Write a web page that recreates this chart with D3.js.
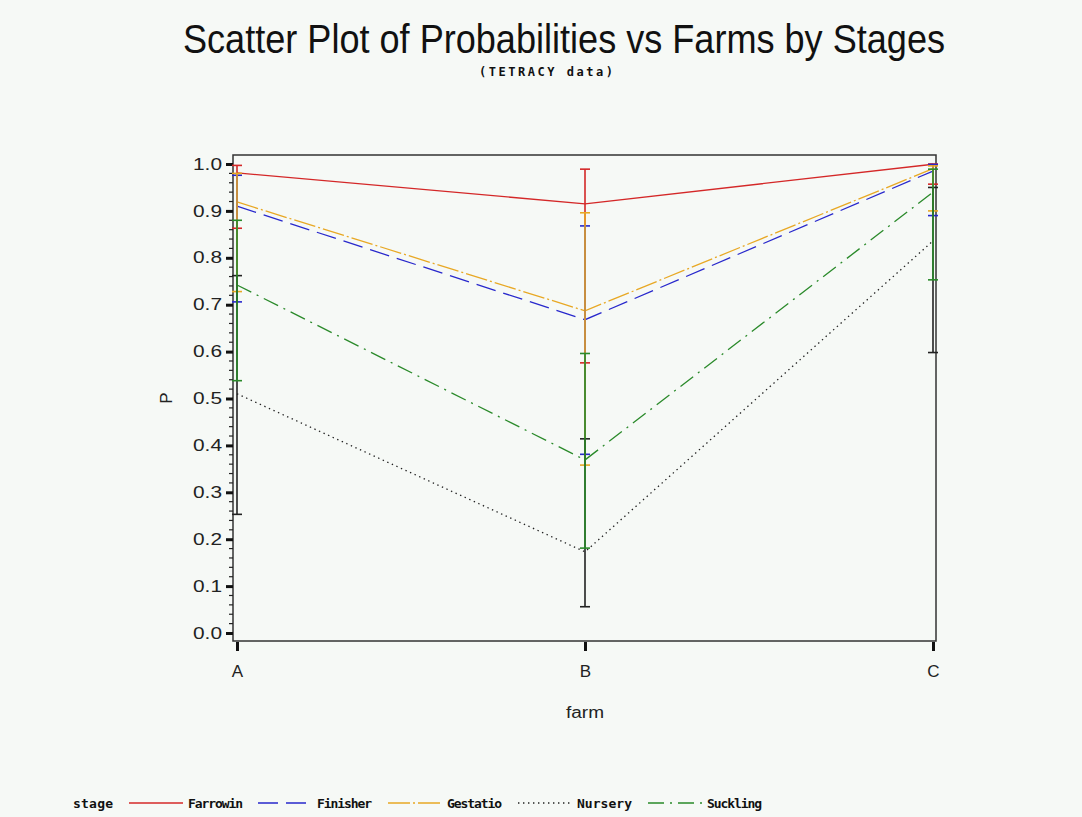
<!DOCTYPE html>
<html>
<head>
<meta charset="utf-8">
<script src="https://cdn.jsdelivr.net/npm/d3@7"></script>
<style>
  html, body { margin: 0; padding: 0; background: #f6f9f6; }
  svg { display: block; }
</style>
</head>
<body>
<svg id="chart" width="1082" height="817"></svg>
<script>
// Farms on the x axis and the production stages drawn as series
const farms = ["A", "B", "C"];
const stages = ["Farrowin", "Finisher", "Gestatio", "Nursery", "Suckling"];

// Estimated probability per stage, one value per farm
const pFarrowin = [0.981, 0.915, 0.9995];
const pFinisher = [0.910, 0.668, 0.985];
const pGestatio = [0.919, 0.687, 0.990];
const pNursery  = [0.510, 0.173, 0.836];
const pSuckling = [0.742, 0.369, 0.940];

// Lower confidence limits
const loFarrowin = [0.863, 0.576, 0.957];
const loFinisher = [0.706, 0.381, 0.890];
const loGestatio = [0.728, 0.358, 0.900];
const loNursery  = [0.253, 0.056, 0.598];
const loSuckling = [0.538, 0.181, 0.753];

// Upper confidence limits
const hiFarrowin = [0.997, 0.989, 1.000];
const hiFinisher = [0.976, 0.868, 0.999];
const hiGestatio = [0.980, 0.896, 0.996];
const hiNursery  = [0.762, 0.414, 0.950];
const hiSuckling = [0.880, 0.596, 0.989];

const yTicks = [0, 0.1, 0.2, 0.3, 0.4, 0.5, 0.6, 0.7, 0.8, 0.9, 1.0];

const series = [
  { name: stages[0], p: pFarrowin, lo: loFarrowin, hi: hiFarrowin, color: "#d42828", dash: null },
  { name: stages[1], p: pFinisher, lo: loFinisher, hi: hiFinisher, color: "#2828cc", dash: "20,8" },
  { name: stages[2], p: pGestatio, lo: loGestatio, hi: hiGestatio, color: "#e8a824", dash: "22,3,2,3" },
  { name: stages[3], p: pNursery,  lo: loNursery,  hi: hiNursery,  color: "#222222", dash: "1.4,3.6" },
  { name: stages[4], p: pSuckling, lo: loSuckling, hi: hiSuckling, color: "#2a8a2a", dash: "16,6,2,6" }
];

const svg = d3.select("#chart");
const frame = { left: 233, right: 936, top: 155, bottom: 641 };

const x = d3.scalePoint().domain(farms).range([237, 933]);
const y = d3.scaleLinear().domain([0, 1]).range([633, 164]);

const sans = "'Liberation Sans', Arial, sans-serif";
const mono = "'DejaVu Sans Mono', 'Liberation Mono', monospace";

// Titles
svg.append("text")
  .attr("x", 564).attr("y", 53)
  .attr("text-anchor", "middle")
  .attr("font-family", sans).attr("font-size", 40)
  .attr("textLength", 762).attr("lengthAdjust", "spacingAndGlyphs")
  .attr("fill", "#111")
  .text("Scatter Plot of Probabilities vs Farms by Stages");

svg.append("text")
  .attr("x", 546).attr("y", 76)
  .attr("text-anchor", "middle")
  .attr("font-family", mono).attr("font-weight", "bold").attr("font-size", 12)
  .attr("textLength", 134).attr("lengthAdjust", "spacing")
  .attr("fill", "#111")
  .text("(TETRACY data)");

// Plot frame
svg.append("rect")
  .attr("x", frame.left).attr("y", frame.top)
  .attr("width", frame.right - frame.left).attr("height", frame.bottom - frame.top)
  .attr("fill", "none").attr("stroke", "#333").attr("stroke-width", 1.5);

// Y axis with major and minor ticks
const yAxis = d3.axisLeft(y).tickValues(yTicks).tickFormat(d3.format(".1f")).tickSize(7).tickPadding(4);
const gy = svg.append("g").attr("transform", `translate(${frame.left},0)`).call(yAxis);
gy.select(".domain").remove();
gy.selectAll(".tick line").attr("stroke", "#111").attr("stroke-width", 3);
gy.selectAll(".tick text")
  .attr("font-family", sans).attr("font-size", 16).attr("fill", "#222")
  .attr("textLength", 29).attr("lengthAdjust", "spacingAndGlyphs");

const minor = d3.range(0, 1.0001, 0.02).filter(v => Math.abs(v * 10 - Math.round(v * 10)) > 1e-6);
svg.append("g").selectAll("line").data(minor).join("line")
  .attr("x1", frame.left - 4).attr("x2", frame.left)
  .attr("y1", d => y(d)).attr("y2", d => y(d))
  .attr("stroke", "#222").attr("stroke-width", 1.2);

// X axis
const xAxis = d3.axisBottom(x).tickSize(9).tickPadding(14);
const gx = svg.append("g").attr("transform", `translate(0,${frame.bottom + 1})`).call(xAxis);
gx.select(".domain").remove();
gx.selectAll(".tick line").attr("stroke", "#111").attr("stroke-width", 3);
gx.selectAll(".tick text").attr("font-family", sans).attr("font-size", 17).attr("fill", "#222");

// Axis labels
svg.append("text")
  .attr("x", 585).attr("y", 718)
  .attr("text-anchor", "middle")
  .attr("font-family", sans).attr("font-size", 16).attr("fill", "#222")
  .attr("textLength", 38).attr("lengthAdjust", "spacingAndGlyphs")
  .text("farm");

svg.append("text")
  .attr("transform", "translate(172,398) rotate(-90)")
  .attr("text-anchor", "middle")
  .attr("font-family", sans).attr("font-size", 17).attr("fill", "#222")
  .text("P");

// Series lines
const line = d3.line().x((d, i) => x(farms[i])).y(d => y(d));
const gLines = svg.append("g");
series.forEach(s => {
  gLines.append("path")
    .attr("d", line(s.p))
    .attr("fill", "none")
    .attr("stroke", s.color)
    .attr("stroke-width", 1.3)
    .attr("stroke-dasharray", s.dash);
});

// Error bars with caps, drawn in stage order
const cap = 5;
const gBars = svg.append("g");
series.forEach(s => {
  farms.forEach((f, i) => {
    const cx = x(f);
    const g = gBars.append("g").attr("stroke", s.color).attr("stroke-width", 1.6);
    g.append("line").attr("x1", cx).attr("x2", cx).attr("y1", y(s.lo[i])).attr("y2", y(s.hi[i]));
    g.append("line").attr("x1", cx - cap).attr("x2", cx + cap).attr("y1", y(s.lo[i])).attr("y2", y(s.lo[i]));
    g.append("line").attr("x1", cx - cap).attr("x2", cx + cap).attr("y1", y(s.hi[i])).attr("y2", y(s.hi[i]));
  });
});

// Legend
const legY = 803;
svg.append("text")
  .attr("x", 73).attr("y", legY + 5)
  .attr("font-family", mono).attr("font-weight", "bold").attr("font-size", 13)
  .attr("textLength", 40).attr("lengthAdjust", "spacing")
  .attr("fill", "#111")
  .text("stage");

const legX = [129, 258, 388, 518, 648];
series.forEach((s, i) => {
  svg.append("line")
    .attr("x1", legX[i]).attr("x2", legX[i] + 54)
    .attr("y1", legY).attr("y2", legY)
    .attr("stroke", s.color).attr("stroke-width", 1.3)
    .attr("stroke-dasharray", s.dash);
  svg.append("text")
    .attr("x", legX[i] + 59).attr("y", legY + 5)
    .attr("font-family", mono).attr("font-weight", "bold").attr("font-size", 13)
    .attr("textLength", 55).attr("lengthAdjust", "spacing")
    .attr("fill", "#111")
    .text(s.name);
});
</script>
</body>
</html>
